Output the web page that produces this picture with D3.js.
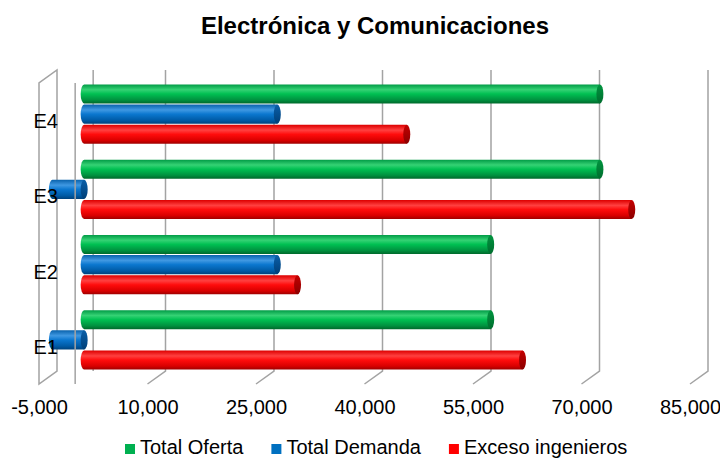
<!DOCTYPE html>
<html>
<head>
<meta charset="utf-8">
<script src="https://cdn.jsdelivr.net/npm/d3@7"></script>
<style>
  html, body { margin: 0; padding: 0; background: #ffffff; }
  svg { display: block; font-family: Arial, "Liberation Sans", sans-serif; }
</style>
</head>
<body>
<svg id="chart" width="720" height="459"></svg>
<script>
// ---- data ----
const categories = ["E1", "E2", "E3", "E4"];
const seriesNames = ["Total Oferta", "Total Demanda", "Exceso ingenieros"];
const totalOferta = [56200, 56200, 71300, 71300];
const totalDemanda = [-4400, 26700, -4400, 26700];
const excesoIngenieros = [60600, 29500, 75700, 44600];
const tickValues = [-5000, 10000, 25000, 40000, 55000, 70000, 85000];
const tickLabels = ["-5,000", "10,000", "25,000", "40,000", "55,000", "70,000", "85,000"];
const chartTitle = "Electrónica y Comunicaciones";

// ---- styling ----
const palette = {
  "Total Oferta":      { swatch: "#00b050", stops: ["#009a45", "#35d274", "#00c052", "#00913f", "#006a2c"], cap: ["#00953f", "#006d2e"] },
  "Total Demanda":     { swatch: "#0070c0", stops: ["#0a63ad", "#3f98e2", "#0b77cf", "#005ba6", "#00437d"], cap: ["#0a5fa8", "#003f78"] },
  "Exceso ingenieros": { swatch: "#ff0000", stops: ["#dd0000", "#ff4040", "#ff0c0c", "#d80000", "#9c0000"], cap: ["#c40000", "#8a0000"] }
};
const gridColor = "#a3a3a3";

const svg = d3.select("#chart");
const defs = svg.append("defs");

// vertical gradients for the cylinder bodies and their end caps
seriesNames.forEach((name, i) => {
  const p = palette[name];
  const g = defs.append("linearGradient").attr("id", "body" + i)
    .attr("x1", 0).attr("y1", 0).attr("x2", 0).attr("y2", 1);
  [0, 0.28, 0.5, 0.82, 1].forEach((o, k) => g.append("stop").attr("offset", o).attr("stop-color", p.stops[k]));
  const c = defs.append("linearGradient").attr("id", "cap" + i)
    .attr("x1", 0).attr("y1", 0).attr("x2", 0).attr("y2", 1);
  c.append("stop").attr("offset", 0).attr("stop-color", p.cap[0]);
  c.append("stop").attr("offset", 1).attr("stop-color", p.cap[1]);
});

// ---- 3D frame geometry ----
const floorY = 384, topY = 83;          // front plane vertical extent
const DX = 18, DY = -13;                // depth offset from front to back plane

const x = d3.scaleLinear().domain([-5000, 85000]).range([39, 690]);
const y = d3.scaleBand().domain(categories.slice().reverse()).range([topY, floorY]);
const ySeries = d3.scaleBand().domain(seriesNames).range([0, y.bandwidth()])
  .paddingInner(0.06).paddingOuter(0.39);

// title
svg.append("text")
  .attr("x", 375).attr("y", 34)
  .attr("text-anchor", "middle")
  .attr("font-weight", "bold")
  .attr("font-size", 24)
  .attr("fill", "#000")
  .text(chartTitle);

const frame = svg.append("g").attr("fill", "none").attr("stroke", gridColor).attr("stroke-width", 1.5);

// left wall
const x0 = x.domain()[0];
frame.append("path").attr("d",
  `M${x(x0)},${floorY} L${x(x0)},${topY} L${x(x0) + DX},${topY + DY} L${x(x0) + DX},${floorY + DY} Z`);

// back gridlines and floor ticks
tickValues.slice(1).forEach(v => {
  frame.append("path").attr("d",
    `M${x(v)},${floorY} L${x(v) + DX},${floorY + DY} L${x(v) + DX},${topY + DY}`);
});
// zero line on the back wall
frame.append("line")
  .attr("x1", x(0) + DX).attr("x2", x(0) + DX)
  .attr("y1", topY + DY).attr("y2", floorY + DY);

// ---- cylinders ----
const rows = [];
categories.forEach((cat, ci) => {
  [totalOferta, totalDemanda, excesoIngenieros].forEach((arr, si) => {
    rows.push({ cat, si, name: seriesNames[si], value: arr[ci] });
  });
});

const bars = svg.append("g");
const RX = 3.5;
rows.forEach(d => {
  const half = ySeries.bandwidth() / 2;
  const yc = y(d.cat) + ySeries(d.name) + half + DY / 2;
  const xs = x(0) + DX / 2, xe = x(d.value) + DX / 2;
  const left = Math.min(xs, xe), right = Math.max(xs, xe);
  const g = bars.append("g");
  g.append("path")
    .attr("d", `M${left},${yc - half} L${right},${yc - half} L${right},${yc + half} L${left},${yc + half} A${RX},${half} 0 0 1 ${left},${yc - half} Z`)
    .attr("fill", `url(#body${d.si})`);
  g.append("ellipse")
    .attr("cx", right).attr("cy", yc)
    .attr("rx", RX).attr("ry", half)
    .attr("fill", `url(#cap${d.si})`);
});

// front zero line
svg.append("line")
  .attr("x1", x(0)).attr("x2", x(0))
  .attr("y1", topY).attr("y2", floorY)
  .attr("stroke", gridColor).attr("stroke-width", 1.5);

// value axis labels
const xAxis = d3.axisBottom(x)
  .tickValues(tickValues)
  .tickFormat((d, i) => tickLabels[i])
  .tickSize(0).tickPadding(16);
const gx = svg.append("g").attr("transform", `translate(0,${floorY})`).call(xAxis);
gx.select(".domain").remove();
gx.selectAll("text").attr("font-size", 20).attr("font-family", "Arial, 'Liberation Sans', sans-serif").attr("fill", "#000");

// category labels
const yAxis = d3.axisLeft(y).tickSize(0).tickPadding(0);
const gy = svg.append("g").attr("transform", "translate(58,1)").call(yAxis);
gy.select(".domain").remove();
gy.selectAll("text").attr("font-size", 20).attr("font-family", "Arial, 'Liberation Sans', sans-serif").attr("fill", "#000");

// legend
const legend = svg.append("g").attr("transform", "translate(125,454)");
let lx = 0;
seriesNames.forEach(name => {
  const item = legend.append("g").attr("transform", `translate(${lx},0)`);
  item.append("rect").attr("x", 0).attr("y", -10).attr("width", 10).attr("height", 10)
    .attr("fill", palette[name].swatch);
  const t = item.append("text").attr("x", 15).attr("y", 0)
    .attr("font-size", 20).attr("fill", "#000").text(name);
  lx += 15 + t.node().getComputedTextLength() + 28;
});
</script>
</body>
</html>
